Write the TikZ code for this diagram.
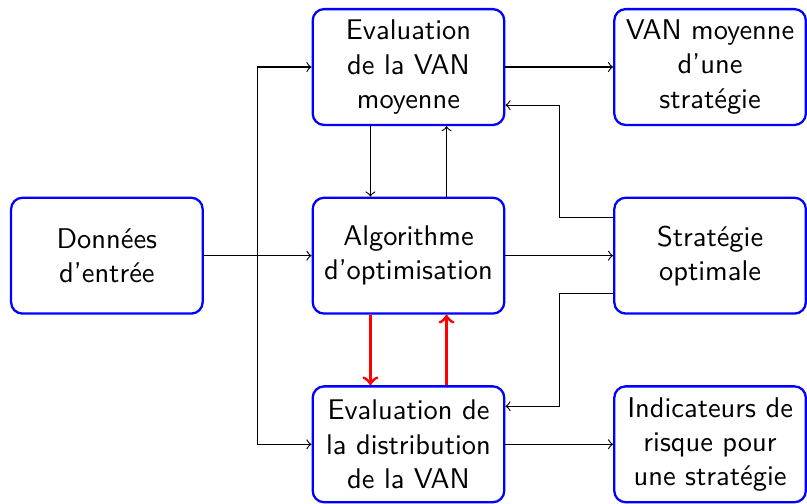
\documentclass[tikz,border=0pt]{standalone}
\usetikzlibrary{positioning,calc}
\begin{document}
\begin{tikzpicture}[
    node distance=0.87cm and 1.33cm,
    block/.style={rectangle, draw=blue, thick, text width=2.13cm, text centered, rounded corners, minimum height=1.43cm, font=\sffamily},
    arrow/.style={->},
    redarrow/.style={line width=1.05pt, ->, red}
]
    \node [block] (donnees) {Données\\d'entrée};

    \node [block, right=of donnees] (algo) {Algorithme\\d'optimisation};

    \node [block, above=of algo] (evalmoy) {Evaluation\\de la VAN\\moyenne};

    \node [block, below=of algo] (evaldist) {Evaluation de\\la distribution\\de la VAN};

    \node [block, right=of evalmoy] (vanmoy) {VAN moyenne\\d'une\\stratégie};

    \node [block, right=of algo] (strat) {Stratégie\\optimale};

    \node [block, right=of evaldist] (risque) {Indicateurs de\\risque pour\\une stratégie};

    \coordinate (fourche) at ($(donnees.east)!0.5!(algo.west)$);
    \coordinate (retour) at ($(algo.east)!0.5!(strat.west)$);

    \useasboundingbox ([xshift=-3.5pt, yshift=2.8pt]donnees.west |- evalmoy.north) rectangle ([xshift=-0.3pt]risque.east |- risque.south);

    \draw [arrow] (donnees) -- (algo);
    \draw [arrow] (fourche) |- (evalmoy);
    \draw [arrow] (fourche) |- (evaldist);
    \draw [arrow] (evalmoy) -- (vanmoy);
    \draw [arrow] (algo) -- (strat);
    \draw [arrow] (evaldist) -- (risque);

    \draw [arrow] ([xshift=-0.47cm]evalmoy.south) -- ([xshift=-0.47cm]algo.north);
    \draw [arrow] ([xshift=0.47cm]algo.north) -- ([xshift=0.47cm]evalmoy.south);

    \draw [redarrow] ([xshift=-0.47cm]algo.south) -- ([xshift=-0.47cm]evaldist.north);
    \draw [redarrow] ([xshift=0.47cm]evaldist.north) -- ([xshift=0.47cm]algo.south);

    % retours de la strategie optimale
    \draw [arrow] ([yshift=0.47cm]strat.west) -- ([yshift=0.47cm]strat.west -| retour) |- ([yshift=-0.47cm]evalmoy.east);
    \draw [arrow] ([yshift=-0.47cm]strat.west) -- ([yshift=-0.47cm]strat.west -| retour) |- ([yshift=0.47cm]evaldist.east);
\end{tikzpicture}
\end{document}
